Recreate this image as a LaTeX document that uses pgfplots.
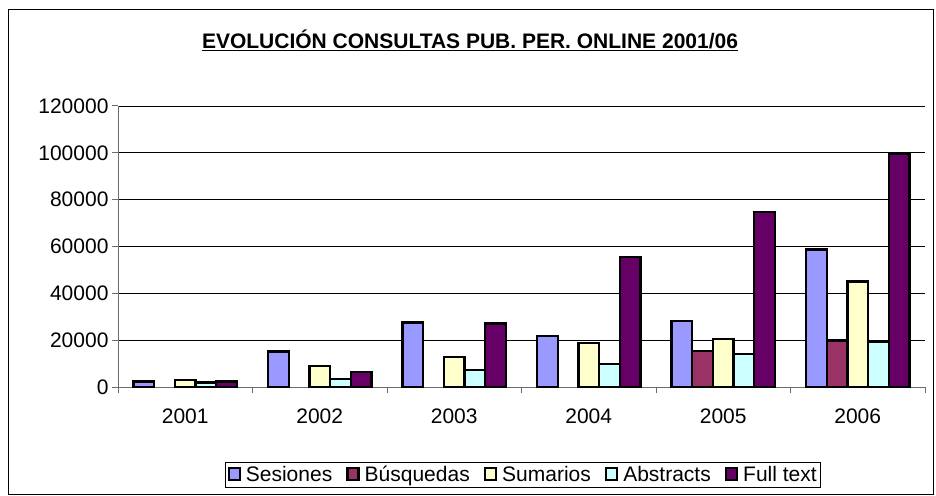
\documentclass[border=0pt]{standalone}
\usepackage{pgfplots}
\pgfplotsset{compat=1.18}
\usepackage{fontspec}
\setmainfont{Liberation Sans}

\definecolor{cSes}{HTML}{9999FF}
\definecolor{cBus}{HTML}{993366}
\definecolor{cSum}{HTML}{FFFFCC}
\definecolor{cAbs}{HTML}{CCFFFF}
\definecolor{cFul}{HTML}{660066}

\newcommand{\chartfont}{\fontsize{21}{24}\selectfont}

\begin{document}
\begin{tikzpicture}
\path[use as bounding box] (0pt,0pt) rectangle (936pt,495pt);
\draw[line width=1pt] (8pt,0.5pt) rectangle (933pt,485pt);
\node[font=\bfseries\chartfont] at (470pt,455pt) {\underline{EVOLUCIÓN CONSULTAS PUB. PER. ONLINE 2001/06}};
\begin{axis}[at={(118pt,108pt)}, anchor=south west,
  width=807pt, height=281pt, scale only axis,
  ybar=0pt, bar width=0.1538,
  xmin=-0.5, xmax=5.5, ymin=0, ymax=120000,
  xtick={0,...,5}, xticklabels={2001,2002,2003,2004,2005,2006},
  major x tick style={draw=none},
  minor xtick={-0.5,0.5,...,5.5}, minor tick length=6pt,
  ytick={0,20000,...,120000}, major tick length=6pt,
  tick align=outside, tick pos=left,
  axis x line*=bottom, axis y line*=left,
  axis line style={gray!85!black, line width=1pt},
  tick style={gray!85!black, line width=1pt},
  ymajorgrids, major grid style={black, line width=0.8pt},
  tick label style={font=\chartfont},
  /pgf/number format/assume math mode=true,
  yticklabel style={/pgf/number format/fixed, /pgf/number format/1000 sep={}},
  scaled y ticks=false,
  xticklabel style={yshift=-12pt},
  legend columns=-1,
  legend style={at={(0.502,-0.313)}, anchor=center, draw=black, line width=0.8pt,
    font=\chartfont, inner sep=2pt,
    /tikz/every odd column/.append style={column sep=3pt},
    /tikz/every even column/.append style={column sep=12pt}},
  legend image code/.code={\draw[#1, draw=black, line width=2.4pt] (0pt,-5pt) rectangle (11pt,7pt);},
]
\addplot[draw=black, line width=2.4pt, fill=cSes] coordinates {(0,2300)(1,15100)(2,27500)(3,21700)(4,28300)(5,58700)};
\addlegendentry{Sesiones}
\addplot[draw=black, line width=2.4pt, fill=cBus] coordinates {(4,15400)(5,19800)};
\addlegendentry{Búsquedas}
\addplot[draw=black, line width=2.4pt, fill=cSum] coordinates {(0,3000)(1,9000)(2,12700)(3,18800)(4,20600)(5,45000)};
\addlegendentry{Sumarios}
\addplot[draw=black, line width=2.4pt, fill=cAbs] coordinates {(0,2000)(1,3300)(2,7300)(3,9700)(4,14100)(5,19100)};
\addlegendentry{Abstracts}
\addplot[draw=black, line width=2.4pt, fill=cFul] coordinates {(0,2300)(1,6500)(2,27200)(3,55400)(4,74800)(5,99600)};
\addlegendentry{Full text}
\end{axis}
\end{tikzpicture}
\end{document}
